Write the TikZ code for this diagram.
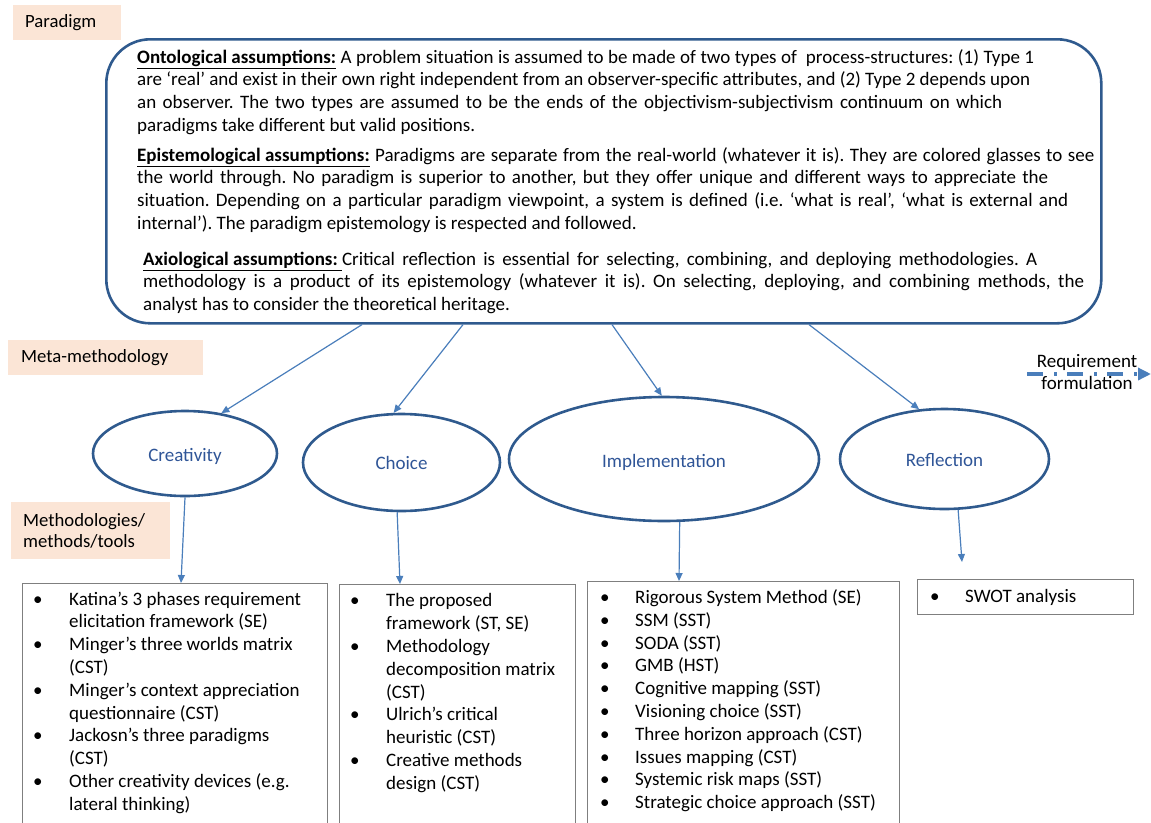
\documentclass[tikz,border=0pt]{standalone}
\usepackage{fontspec}
\setmainfont{Carlito}
\usetikzlibrary{shapes.geometric,arrows.meta,calc}
\definecolor{peach}{HTML}{FBE5D6}
\definecolor{ellblue}{HTML}{2F5A8E}
\definecolor{elltext}{HTML}{2F5597}
\definecolor{arrblue}{HTML}{4A7EBB}
\definecolor{boxgray}{HTML}{7F7F7F}
\newcommand{\fs}{\fontsize{19}{22.8}\selectfont\frenchspacing}
\newcommand{\ul}[1]{\underline{\textbf{#1}}}
\newcommand{\fl}[2]{\makebox[#1pt][s]{#2}}
\newcommand{\bulA}{\makebox[36pt][l]{•}}
\newcommand{\indA}{\hspace*{36pt}}
\newcommand{\bulB}{\makebox[35pt][l]{•}}
\begin{document}
\begin{tikzpicture}[x=1pt,y=-1pt,
  lbl/.style={fill=peach, draw=none, font=\fontsize{18.7}{21.5}\selectfont, align=left, anchor=north west, inner ysep=0pt},
  ell/.style={ellipse, draw=ellblue, line width=2.6pt, inner sep=0pt},
  elltxt/.style={text=elltext, font=\fs, inner sep=0pt},
  arr/.style={draw=arrblue, line width=1.2pt, -{Triangle[length=8pt,width=7pt]}},
  listbox/.style={draw=boxgray, line width=1.3pt, anchor=north west, inner sep=0pt},
  listtext/.style={anchor=north west, inner sep=0pt, font=\fs},
  bigbox/.style={draw=ellblue, line width=2.6pt, rounded corners=44pt, anchor=north west, inner sep=0pt},
  reqline/.style={draw=arrblue, line width=3.5pt, dash pattern=on 16pt off 11pt on 3pt off 10pt, -{Triangle[length=13pt,width=12pt]}}
]
\useasboundingbox (0,0) rectangle (1151,822);
\clip (0,0) rectangle (1151,822);

% section labels
\node[lbl, minimum height=35pt, text width=84pt, inner xsep=12pt] (lpar) at (13,5) {Paradigm};
\node[lbl, minimum height=35pt, text width=169pt, inner xsep=13pt] (lmeta) at (8,340) {Meta-methodology};
\node[lbl, minimum height=57pt, text width=135pt, inner xsep=12pt] (lmeth) at (11,502) {Methodologies/\\methods/tools};

% paradigm box
\node[bigbox, minimum width=995pt, minimum height=284pt] (para) at (105,38) {};
\node[listtext] (p1) at (137,47) {\begin{tabular}{@{}l@{}}
\fl{897}{\ul{Ontological assumptions:} A problem situation is assumed to be made of two types of\ \ process-structures: (1) Type 1}\\
\fl{893}{are ‘real’ and exist in their own right independent from an observer-specific attributes, and (2) Type 2 depends upon}\\
\fl{865}{an observer. The two types are assumed to be the ends of the objectivism-subjectivism continuum on which}\\
paradigms take different but valid positions.
\end{tabular}};
\node[listtext] (p2) at (137,145) {\begin{tabular}{@{}l@{}}
\fl{957}{\ul{Epistemological assumptions:} Paradigms are separate from the real-world (whatever it is). They are colored glasses to see}\\
\fl{911}{the world through. No paradigm is superior to another, but they offer unique and different ways to appreciate the}\\
\fl{931}{situation. Depending on a particular paradigm viewpoint, a system is defined (i.e. ‘what is real’, ‘what is external and}\\
internal’). The paradigm epistemology is respected and followed.
\end{tabular}};
\node[listtext] (p3) at (143,249) {\begin{tabular}{@{}l@{}}
\fl{894}{\ul{Axiological assumptions:\ }Critical reflection is essential for selecting, combining, and deploying methodologies. A}\\
\fl{941}{methodology is a product of its epistemology (whatever it is). On selecting, deploying, and combining methods, the}\\
analyst has to consider the theoretical heritage.
\end{tabular}};

% meta-methodology ellipses
\node[ell, minimum width=184pt, minimum height=85pt] (cre) at (185,453.5) {};
\node[ell, minimum width=197pt, minimum height=97pt] (cho) at (401.5,462.5) {};
\node[ell, minimum width=310pt, minimum height=124pt] (imp) at (664,459) {};
\node[ell, minimum width=209pt, minimum height=100pt] (ref) at (944.5,459) {};
\node[elltxt] (creT) at ($(cre.center)+(0,3)$) {Creativity};
\node[elltxt] (choT) at ($(cho.center)+(0,0)$) {Choice};
\node[elltxt] (impT) at ($(imp.center)+(0,3)$) {Implementation};
\node[elltxt] (refT) at ($(ref.center)+(0,0.5)$) {Reflection};

\draw[arr] ($(para.south west)+(257,0)$) -- (cre.48);
\draw[arr] ($(para.south west)+(358,0)$) -- (cho.99);
\draw[arr] ($(para.south west)+(507,0)$) -- (imp.92);
\draw[arr] ($(para.south west)+(704,0)$) -- (ref.117);

% requirement formulation
\coordinate (rfs) at (1027,374);
\coordinate (rfe) at (1151,374);
\draw[reqline] (rfs) -- (rfe);
\node[font=\fs, align=center, inner sep=0pt] (rf) at (1087,372) {Requirement\\formulation};

% method boxes
\node[listbox, minimum width=305pt, minimum height=260pt] (b1) at (22,583) {};
\node[listbox, minimum width=236pt, minimum height=260pt] (b2) at (339,584) {};
\node[listbox, minimum width=312pt, minimum height=260pt] (b3) at (587,581) {};
\node[listbox, minimum width=216pt, minimum height=35pt] (b4) at (917,579) {};

\node[listtext] (t1) at (33,589) {\begin{tabular}{@{}l@{}}
\bulA Katina’s 3 phases requirement\\
\indA elicitation framework (SE)\\
\bulA Minger’s three worlds matrix\\
\indA (CST)\\
\bulA Minger’s context appreciation\\
\indA questionnaire (CST)\\
\bulA Jackosn’s three paradigms\\
\indA (CST)\\
\bulA Other creativity devices (e.g.\\
\indA lateral thinking)
\end{tabular}};
\node[listtext] (t2) at (350,590.7) {\begin{tabular}{@{}l@{}}
\bulA The proposed\\
\indA framework (ST, SE)\\
\bulA Methodology\\
\indA decomposition matrix\\
\indA (CST)\\
\bulA Ulrich’s critical\\
\indA heuristic (CST)\\
\bulA Creative methods\\
\indA design (CST)
\end{tabular}};
\node[listtext] (t3) at (600,587.3) {\begin{tabular}{@{}l@{}}
\bulB Rigorous System Method (SE)\\
\bulB SSM (SST)\\
\bulB SODA (SST)\\
\bulB GMB (HST)\\
\bulB Cognitive mapping (SST)\\
\bulB Visioning choice (SST)\\
\bulB Three horizon approach (CST)\\
\bulB Issues mapping (CST)\\
\bulB Systemic risk maps (SST)\\
\bulB Strategic choice approach (SST)
\end{tabular}};
\node[listtext] (t4) at (930,586) {\begin{tabular}{@{}l@{}}
\bulB SWOT analysis
\end{tabular}};

\coordinate (refend) at (962,562);
\draw[arr] (cre.south) -- ($(b1.north west)+(159,0)$);
\draw[arr] (cho.-95) -- ($(b2.north west)+(61,0)$);
\draw[arr] (imp.-76) -- ($(b3.north west)+(92,0)$);
\draw[arr] (ref.-75) -- (refend);
\end{tikzpicture}
\end{document}
